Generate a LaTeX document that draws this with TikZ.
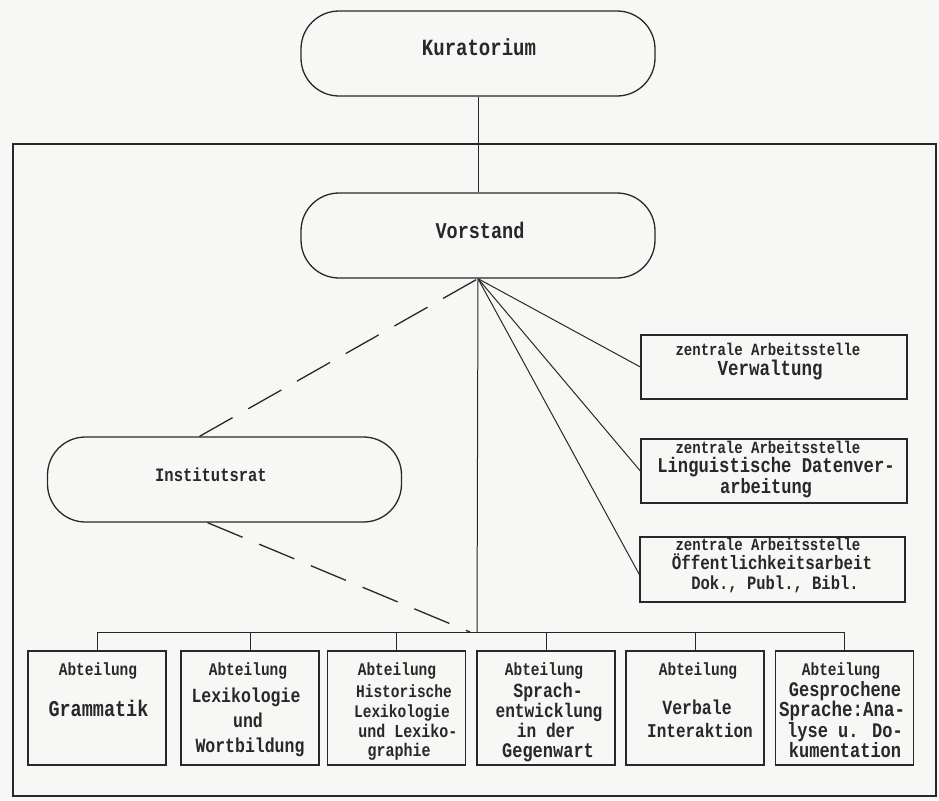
\documentclass[tikz,border=0pt]{standalone}
\usepackage{fontspec}
\newfontfamily\plotfont[FakeStretch=0.82]{Liberation Mono}
\usetikzlibrary{calc}
\definecolor{ink}{RGB}{40,40,40}
\definecolor{paper}{RGB}{247,247,245}
\begin{document}
\begin{tikzpicture}[x=1pt,y=-1pt,
  pill/.style={draw=ink, line width=1.3pt, rounded corners=38pt, minimum width=354pt, minimum height=85pt, inner sep=0pt},
  zbox/.style={draw=ink, line width=1.3pt, inner sep=0pt},
  lbl/.style={anchor=mid, inner sep=0pt, text=ink, text height=0.64em, text depth=0.14em,
    font=\plotfont\bfseries\fontsize{\fpeval{#1/0.82}}{\fpeval{#1/0.82}}\selectfont},
  conn/.style={draw=ink, line width=1pt},
  dconn/.style={draw=ink, line width=1.3pt, dash pattern=on 38pt off 18pt}]
\fill[paper] (0,0) rectangle (939,800);
\useasboundingbox (0,0) rectangle (939,800);
\draw[ink, line width=1.8pt] (13,144) rectangle (936,796);

% main nodes
\node[pill] (kur) at (478,53.5) {};
\node[pill] (vor) at (478,235.5) {};
\node[pill] (inst) at (224.5,479.5) {};
\node[lbl=19] (kurt) at (479,53) {Kuratorium};
\node[lbl=18.5] (vort) at (480,236) {Vorstand};
\node[lbl=15.5] (instt) at (211,479) {Institutsrat};

% right boxes
\node[zbox, minimum width=266pt, minimum height=64pt] (r1) at (774,367) {};
\node[zbox, minimum width=266pt, minimum height=64pt] (r2) at (774,471) {};
\node[zbox, minimum width=265pt, minimum height=65pt] (r3) at (772.5,569.5) {};
\node[lbl=14] (r1a) at (768,353) {zentrale Arbeitsstelle};
\node[lbl=17.5] (r1b) at (770,373) {Verwaltung};
\node[lbl=14] (r2a) at (768,451) {zentrale Arbeitsstelle};
\node[lbl=17.2] (r2b) at (776,470.5) {Linguistische Datenver-};
\node[lbl=17] (r2c) at (766,491) {arbeitung};
\node[lbl=14] (r3a) at (768,548) {zentrale Arbeitsstelle};
\node[lbl=15.9] (r3b) at (772,567.5) {Öffentlichkeitsarbeit};
\node[lbl=15.5] (r3c) at (775,587) {Dok., Publ., Bibl.};

% bottom boxes
\foreach \n/\cx in {a1/97,a2/250,a3/396.5,a4/546,a5/695,a6/844.5}
  \node[zbox, minimum width=138pt, minimum height=114pt] (\n) at (\cx,708) {};
\node[lbl=14.5] (a1a) at (98,673) {Abteilung};
\node[lbl=18.5] (a1b) at (98.5,714) {Grammatik};
\node[lbl=14.5] (a2a) at (248,673) {Abteilung};
\node[lbl=16.5] (a2b) at (246,700) {Lexikologie};
\node[lbl=16.5] (a2c) at (248,725) {und};
\node[lbl=16.5] (a2d) at (250,750) {Wortbildung};
\node[lbl=14.5] (a3a) at (397,673) {Abteilung};
\node[lbl=14.5] (a3b) at (404,695) {Historische};
\node[lbl=14.5] (a3c) at (402,715) {Lexikologie};
\node[lbl=15] (a3d) at (408,735) {und Lexiko-};
\node[lbl=15] (a3e) at (399,754) {graphie};
\node[lbl=14.5] (a4a) at (544,673) {Abteilung};
\node[lbl=16.5] (a4b) at (548,695) {Sprach-};
\node[lbl=16.2] (a4c) at (549,715) {entwicklung};
\node[lbl=16.2] (a4d) at (546,735) {in der};
\node[lbl=17] (a4e) at (548,755) {Gegenwart};
\node[lbl=14.5] (a5a) at (698,673) {Abteilung};
\node[lbl=16.5] (a5b) at (697,712) {Verbale};
\node[lbl=16] (a5c) at (700,735) {Interaktion};
\node[lbl=14.5] (a6a) at (841,673) {Abteilung};
\node[lbl=17] (a6b) at (845,694) {Gesprochene};
\node[lbl=17.5] (a6c) at (842,714.5) {Sprache:Ana-};
\node[lbl=17] (a6d) at (845,735) {lyse u. Do-};
\node[lbl=17] (a6e) at (845,755) {kumentation};

% connectors
\coordinate (busL) at (97,632);
\coordinate (busR) at (845,632);
\coordinate (busV) at (477,632);
\coordinate (dashEnd) at (470,632);
\draw[conn] (kur.south) -- (vor.north);
\draw[conn] (vor.south) -- (r1.west);
\draw[conn] (vor.south) -- (r2.west);
\draw[conn] (vor.south) -- ([yshift=-5pt]r3.west);
\draw[conn] (vor.south) -- (busV);
\draw[conn] (busL) -- (busR);
\foreach \n in {a1,a2,a3,a4,a5,a6}
  \draw[conn] (\n.north) -- (\n.north |- busL);
\draw[dconn] ([xshift=-25pt]inst.north) -- (vor.south);
\draw[dconn] ([xshift=-17pt]inst.south) -- (dashEnd);
\end{tikzpicture}
\end{document}
